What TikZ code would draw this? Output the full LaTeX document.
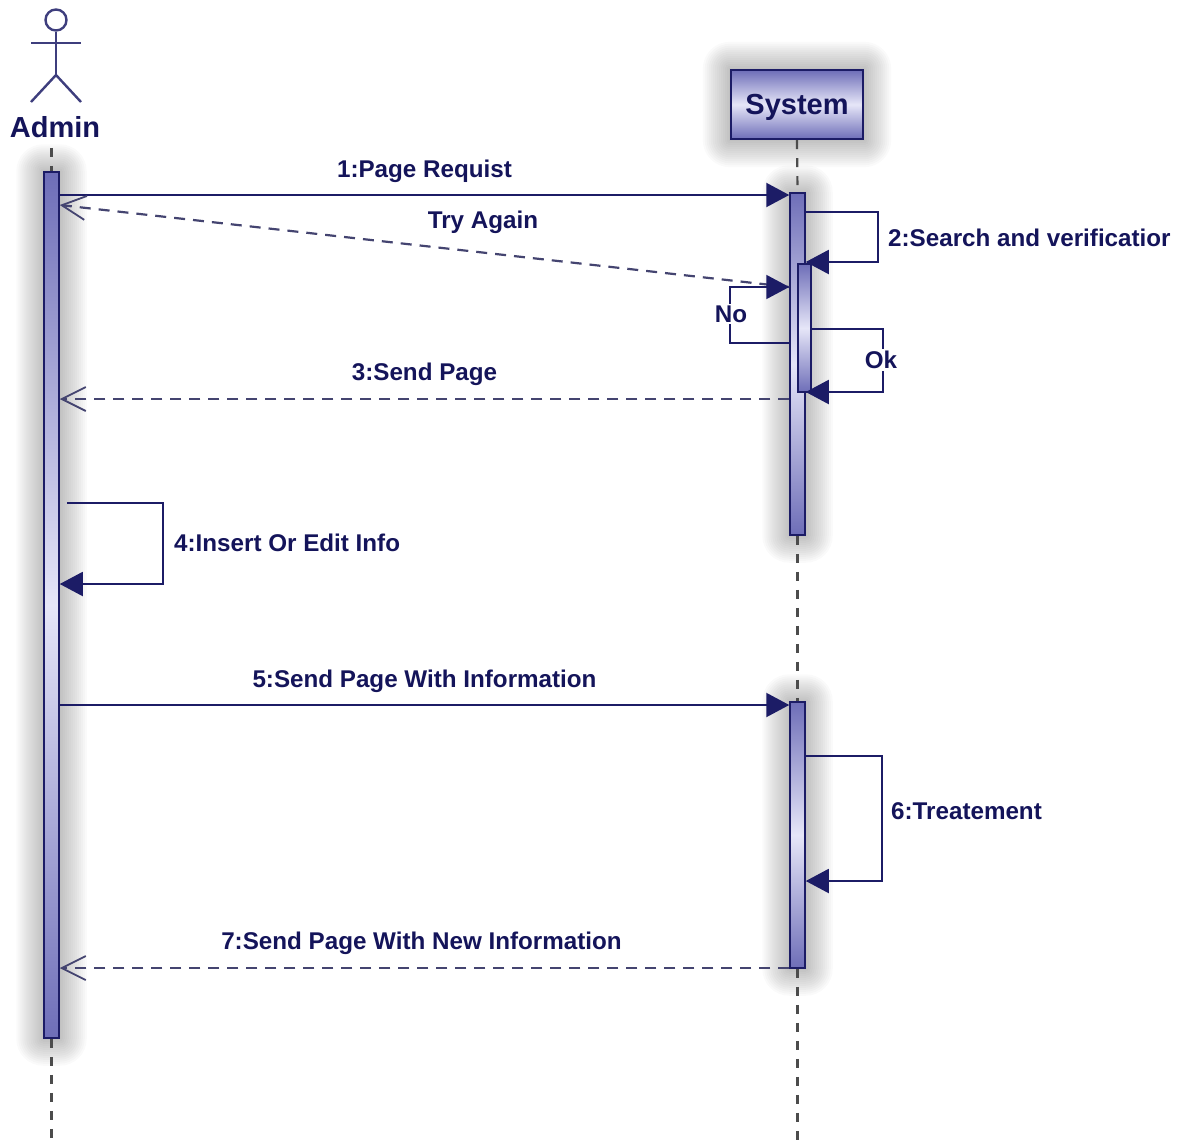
\documentclass[tikz,border=0pt]{standalone}
\usepackage{fontspec}
\setmainfont{Liberation Sans}
\usetikzlibrary{arrows.meta,positioning,backgrounds}
\definecolor{seqnavy}{HTML}{14145A}
\definecolor{seqline}{HTML}{1C1C66}
\definecolor{seqdark}{HTML}{6E6EB8}
\definecolor{seqlight}{HTML}{E6E6F8}
\tikzset{
  actorline/.style={draw=seqline!85!white, line width=2.4pt},
  actorname/.style={text=seqnavy, font=\fontsize{29}{33}\bfseries\selectfont, inner sep=0pt},
  sysbox/.style={rectangle, draw=seqline, line width=2.4pt, top color=seqdark, bottom color=seqdark, middle color=seqlight, minimum width=132pt, minimum height=69pt, text=seqnavy, text height=25pt, text depth=6pt, font=\fontsize{29}{33}\bfseries\selectfont},
  barbox/.style={rectangle, draw=seqline, line width=1.5pt, top color=seqdark, bottom color=seqdark, middle color=seqlight, minimum width=15pt, inner sep=0pt},
  lifeline/.style={draw=black!70, line width=2.2pt, dash pattern=on 9pt off 9pt},
  msg/.style={draw=seqline, line width=2.2pt, -{Triangle[length=23pt,width=24pt]}},
  reply/.style={draw=seqline!75!black!80, line width=2.2pt, dash pattern=on 11pt off 8pt, -{Straight Barb[length=24pt,width=24pt,line width=1.8pt]}},
  selfmsg/.style={draw=seqline, line width=2pt, rounded corners=0pt, -{Triangle[length=23pt,width=24pt]}},
  msglabel/.style={text=seqnavy, font=\fontsize{24.2}{28}\bfseries\selectfont, inner sep=0pt},
  guardlabel/.style={msglabel, fill=white, inner sep=2pt}
}
\newcommand{\barglow}[1]{
  \begin{scope}[on background layer]
    \foreach \r in {1,3,...,27}
      \fill[black, opacity=0.021, rounded corners=\r pt] ([shift={(-\r pt,-\r pt)}]#1.south west) rectangle ([shift={(\r pt,\r pt)}]#1.north east);
  \end{scope}
}
\begin{document}
\begin{tikzpicture}[x=1pt, y=-1pt]
  \useasboundingbox (0,0) rectangle (1177,1140);

  \node[actorline, circle, minimum size=21pt, inner sep=0pt] (head) at (56,20) {};
  \coordinate (hip) at (56,75);
  \coordinate (handl) at (31,43);
  \coordinate (handr) at (81,43);
  \coordinate (footl) at (31,102);
  \coordinate (footr) at (81,102);
  \node[actorname] (admin) at (55,127) {Admin};
  \node[sysbox] (system) at (797,104.5) {System};

  \node[barbox, minimum height=866pt] (adminbar) at (51.5,605) {};
  \node[barbox, minimum height=342pt] (sysbara) at (797.5,364) {};
  \node[barbox, minimum width=13pt, minimum height=128pt] (sysbarb) at (804.5,328) {};
  \node[barbox, minimum height=266pt] (sysbarc) at (797.5,835) {};
  \coordinate (adminend) at (51.5,1140);
  \coordinate (sysend) at (797.5,1140);

  \barglow{adminbar}
  \barglow{system}
  \barglow{sysbara}
  \barglow{sysbarc}

  \draw[actorline] (head) -- (hip);
  \draw[actorline] (handl) -- (handr);
  \draw[actorline] (footl) -- (hip) -- (footr);

  \draw[lifeline] (adminbar.north |- admin.south) ++(0,10) -- (adminbar.north);
  \draw[lifeline] (adminbar.south) -- (adminend);
  \draw[lifeline] (system.south) -- (sysbara.north);
  \draw[lifeline] (sysbara.south) -- (sysbarc.north);
  \draw[lifeline] (sysbarc.south) -- (sysend);

  \draw[msg] (adminbar.east |- 0,195) -- node[msglabel, above=11pt] (msga) {1:Page Requist} (sysbara.west |- 0,195);
  \draw[reply] (sysbara.west |- 0,287) -- (adminbar.east |- 0,205);
  \node[msglabel] (tryagain) at (483,222) {Try Again};
  \draw[selfmsg] (sysbara.east |- 0,212) -- ++(72,0) -- ++(0,50) -- (sysbara.east |- 0,262);
  \node[msglabel, anchor=west] (msgb) at (888,238) {2:Search and verificatior};
  \draw[selfmsg] (sysbara.west |- 0,343) -- ++(-59,0) -- ++(0,-56) -- (sysbara.west |- 0,287);
  \node[guardlabel] (no) at (731,314) {No};
  \draw[selfmsg] (sysbarb.east |- 0,329) -- ++(71,0) -- ++(0,63) -- (sysbara.east |- 0,392);
  \node[guardlabel] (ok) at (881,360) {Ok};
  \draw[reply] (sysbara.west |- 0,399) -- node[msglabel, above=12pt] (msgc) {3:Send Page} (adminbar.east |- 0,399);
  \draw[selfmsg] (adminbar.east |- 0,503) ++(7,0) -- (163,503) -- (163,584) -- (adminbar.east |- 0,584);
  \node[msglabel, anchor=west] (msgd) at (174,543) {4:Insert Or Edit Info};
  \draw[msg] (adminbar.east |- 0,705) -- node[msglabel, above=11pt] (msge) {5:Send Page With Information} (sysbarc.west |- 0,705);
  \draw[selfmsg] (sysbarc.east |- 0,756) -- ++(76,0) -- ++(0,125) -- (sysbarc.east |- 0,881);
  \node[msglabel, anchor=west] (msgf) at (891,811) {6:Treatement};
  \draw[reply] (sysbarc.west |- 0,968) -- node[msglabel, above=12pt, xshift=-3pt] (msgg) {7:Send Page With New Information} (adminbar.east |- 0,968);
\end{tikzpicture}
\end{document}
